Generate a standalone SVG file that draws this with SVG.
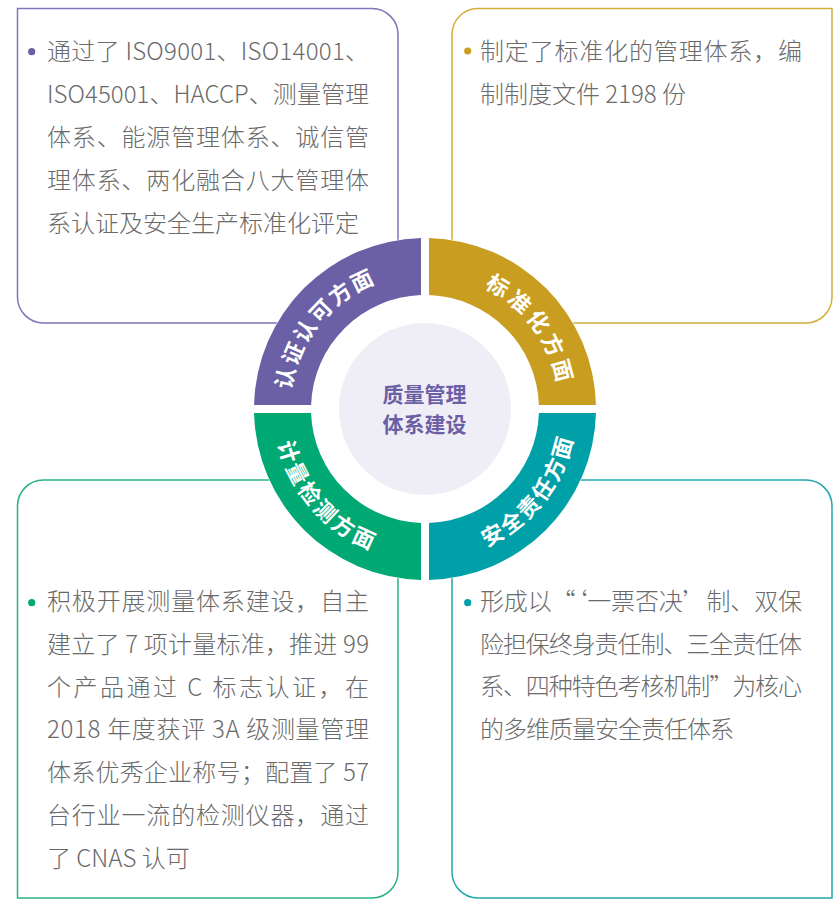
<svg xmlns="http://www.w3.org/2000/svg" width="836" height="900" viewBox="0 0 836 900">
<style>
.box{fill:#fff;stroke-width:1.5}
.body{font-family:"Noto Sans CJK SC","Noto Sans",sans-serif;font-size:24px;font-weight:300;fill:#6a6a6a}
.seg-label{font-family:"Noto Sans CJK SC","Noto Sans",sans-serif;font-size:22px;font-weight:700;fill:#fff}
.hub-text{font-family:"Noto Sans CJK SC","Noto Sans",sans-serif;font-size:21px;font-weight:700;fill:#6B5FA6}
</style>
<defs>
<path id="arcP" d="M290 409 A135 135 0 0 1 425 274"/>
<path id="arcG" d="M425 274 A135 135 0 0 1 560 409"/>
<path id="arcN" d="M274 409 A151 151 0 0 0 425 560"/>
<path id="arcT" d="M425 560 A151 151 0 0 0 576 409"/>
</defs>
<rect width="836" height="900" fill="#fff"/>

<g id="box-certification">
<path class="box" stroke="#7E74B8" d="M17.5 8.5 H372 A26 26 0 0 1 398 34.5 V323 H43.5 A26 26 0 0 1 17.5 297 Z"/>
<circle cx="31.7" cy="51.7" r="3.6" fill="#6B5FA6"/>
<text class="body" x="47" y="60" textLength="322" lengthAdjust="spacing">通过了 ISO9001、ISO14001、</text>
<text class="body" x="47" y="103" textLength="322" lengthAdjust="spacing">ISO45001、HACCP、测量管理</text>
<text class="body" x="47" y="146" textLength="322" lengthAdjust="spacing">体系、能源管理体系、诚信管</text>
<text class="body" x="47" y="189" textLength="322" lengthAdjust="spacing">理体系、两化融合八大管理体</text>
<text class="body" x="47" y="232">系认证及安全生产标准化评定</text>
</g>

<g id="box-standardization">
<path class="box" stroke="#D2AE3C" d="M477.5 8.5 H832 V297 A26 26 0 0 1 806 323 H452 V34.5 A26 26 0 0 1 477.5 8.5 Z"/>
<circle cx="467.7" cy="51" r="3.6" fill="#C99E20"/>
<text class="body" x="480" y="60" textLength="322" lengthAdjust="spacing">制定了标准化的管理体系，编</text>
<text class="body" x="480" y="103">制制度文件 2198 份</text>
</g>

<g id="box-measurement">
<path class="box" stroke="#2AB382" d="M43.5 480 H398 V872 A26 26 0 0 1 372 898 H17.5 V506 A26 26 0 0 1 43.5 480 Z"/>
<circle cx="31.7" cy="602.7" r="3.6" fill="#00A873"/>
<text class="body" x="47" y="610" textLength="322" lengthAdjust="spacing">积极开展测量体系建设，自主</text>
<text class="body" x="47" y="652.8" textLength="322" lengthAdjust="spacing">建立了 7 项计量标准，推进 99</text>
<text class="body" x="47" y="695.6" textLength="322" lengthAdjust="spacing">个产品通过 C 标志认证，在</text>
<text class="body" x="47" y="738.4" textLength="322" lengthAdjust="spacing">2018 年度获评 3A 级测量管理</text>
<text class="body" x="47" y="781.2" textLength="322" lengthAdjust="spacing">体系优秀企业称号；配置了 57</text>
<text class="body" x="47" y="824" textLength="322" lengthAdjust="spacing">台行业一流的检测仪器，通过</text>
<text class="body" x="47" y="866.8">了 CNAS 认可</text>
</g>

<g id="box-safety">
<path class="box" stroke="#22A7AD" d="M452 480 H806 A26 26 0 0 1 832 506 V898 H478 A26 26 0 0 1 452 872 Z"/>
<circle cx="467.7" cy="602.7" r="3.6" fill="#00A0A8"/>
<text class="body" x="480" y="610" textLength="322" lengthAdjust="spacing">形成以“‘一票否决’制、双保</text>
<text class="body" x="480" y="652.5" textLength="322" lengthAdjust="spacing">险担保终身责任制、三全责任体</text>
<text class="body" x="480" y="695" textLength="322" lengthAdjust="spacing">系、四种特色考核机制”为核心</text>
<text class="body" x="480" y="737.5" letter-spacing="-1">的多维质量安全责任体系</text>
</g>

<circle cx="425" cy="409" r="171.5" fill="#fff"/>

<g id="seg-certification">
<path fill="#6B5FA6" d="M254.05 405 A171 171 0 0 1 421 238.05 L421 295.07 A114 114 0 0 0 311.07 405 Z"/>
<text class="seg-label" letter-spacing="2.1" text-anchor="middle"><textPath href="#arcP" startOffset="91.0">认证认可方面</textPath></text>
</g>
<g id="seg-standardization">
<path fill="#C99E20" d="M429 238.05 A171 171 0 0 1 595.95 405 L538.93 405 A114 114 0 0 0 429 295.07 Z"/>
<text class="seg-label" letter-spacing="3.7" text-anchor="middle"><textPath href="#arcG" startOffset="125.3">标准化方面</textPath></text>
</g>
<g id="seg-safety">
<path fill="#00A0A8" d="M595.95 413 A171 171 0 0 1 429 579.95 L429 522.93 A114 114 0 0 0 538.93 413 Z"/>
<text class="seg-label" letter-spacing="2.2" text-anchor="middle"><textPath href="#arcT" startOffset="136">安全责任方面</textPath></text>
</g>
<g id="seg-measurement">
<path fill="#00A873" d="M421 579.95 A171 171 0 0 1 254.05 413 L311.07 413 A114 114 0 0 0 421 522.93 Z"/>
<text class="seg-label" letter-spacing="2.9" text-anchor="middle"><textPath href="#arcN" startOffset="109.5">计量检测方面</textPath></text>
</g>

<g id="hub">
<circle cx="425" cy="409" r="86" fill="#EFEEF6"/>
<text class="hub-text" x="424.5" y="402" text-anchor="middle">质量管理</text>
<text class="hub-text" x="424.5" y="432" text-anchor="middle">体系建设</text>
</g>

<g id="connectors"/>
</svg>
